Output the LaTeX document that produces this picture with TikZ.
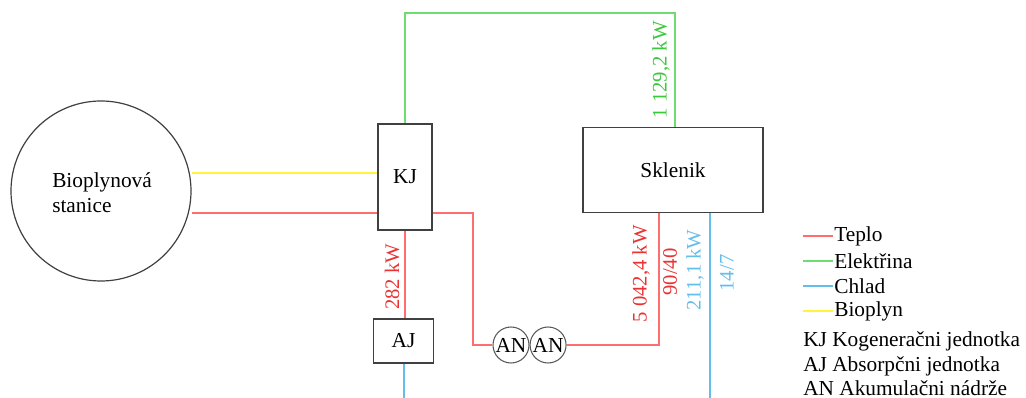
\documentclass[tikz,border=0pt]{standalone}
\usepackage{fontspec}
\setmainfont{Liberation Serif}
\usetikzlibrary{positioning}

\definecolor{teplo}{RGB}{255,110,110}
\definecolor{elek}{RGB}{110,220,110}
\definecolor{chlad}{RGB}{100,190,235}
\definecolor{bio}{RGB}{255,245,60}
\definecolor{teplotxt}{RGB}{235,50,50}
\definecolor{elektxt}{RGB}{60,200,60}

\tikzset{
	box/.style={draw=black!75, line width=0.9pt, inner sep=0pt},
	tank/.style={draw=black!65, circle, line width=0.8pt, minimum size=27pt, inner sep=0pt},
	pipe/.style={line width=1.5pt},
	vlabel/.style={rotate=90, inner sep=0pt, font=\fontsize{15.5}{18}\selectfont},
	legtext/.style={anchor=west, inner sep=0pt}
}

\begin{document}
\begin{tikzpicture}[x=0.75pt, y=-0.75pt, font=\fontsize{16}{19}\selectfont]
	\useasboundingbox (0,0) rectangle (1026,398);

	% units
	\node[box, circle, minimum size=135pt] (bps) at (101,191) {};
	\node[anchor=west, align=left, inner sep=0pt] (bpstxt) at (52,193) {Bioplynová\\stanice};
	\node[box, minimum width=40.5pt, minimum height=79.5pt] (kj) at (405,177) {KJ};
	\node[box, minimum width=45.5pt, minimum height=33pt] (aj) at (403.5,341) {AJ};
	\node[box, minimum width=135pt, minimum height=64pt] (skl) at (673,170) {Sklenik};
	\node[tank] (an1) at (511,345) {AN};
	\node[tank, right=0pt of an1] (an2) {AN};

	% bioplyn
	\draw[pipe, bio] (bps.east |- 0,173) -- (kj.west |- 0,173);
	% teplo
	\draw[pipe, teplo] (bps.east |- 0,213) -- (kj.west |- 0,213);
	\draw[pipe, teplo] (kj.south) -- (kj.south |- aj.north);
	\draw[pipe, teplo] (kj.east |- 0,213) -| (473,345) -- (an1.west);
	\draw[pipe, teplo] (an2.east) -| (skl.south -| 659,0);
	% elektrina
	\coordinate (top) at (0,13);
	\draw[pipe, elek] (kj.north) -- (kj.north |- top) -| (skl.north -| 675,0);
	% chlad
	\draw[pipe, chlad] (aj.south) -- (aj.south |- 0,398);
	\draw[pipe, chlad] (skl.south -| 710,0) -- (710,398);

	% values
	\node[vlabel, teplotxt] (q1) at (392,277) {282 kW};
	\node[vlabel, elektxt] (q2) at (661,70) {1 129,2 kW};
	\node[vlabel, teplotxt] (q3) at (641,274) {5 042,4 kW};
	\node[vlabel, teplotxt] (t1) at (670,272) {90/40};
	\node[vlabel, chlad] (q4) at (695,270) {211,1 kW};
	\node[vlabel, chlad] (t2) at (727,273) {14/7};

	% legend
	\foreach \c/\t/\y in {teplo/Teplo/236, elek/Elektřina/261, chlad/Chlad/286, bio/Bioplyn/311}{
		\draw[pipe, \c] (803,\y) -- (833,\y);
		\node[legtext] at (834,\y) {\t};
	}
	\node[legtext, anchor=base west] (l1) at (803,347) {KJ Kogeneračni jednotka};
	\node[legtext, anchor=base west] (l2) at (803,372) {AJ Absorpčni jednotka};
	\node[legtext, anchor=base west] (l3) at (803,396) {AN Akumulačni nádrže};
\end{tikzpicture}
\end{document}
